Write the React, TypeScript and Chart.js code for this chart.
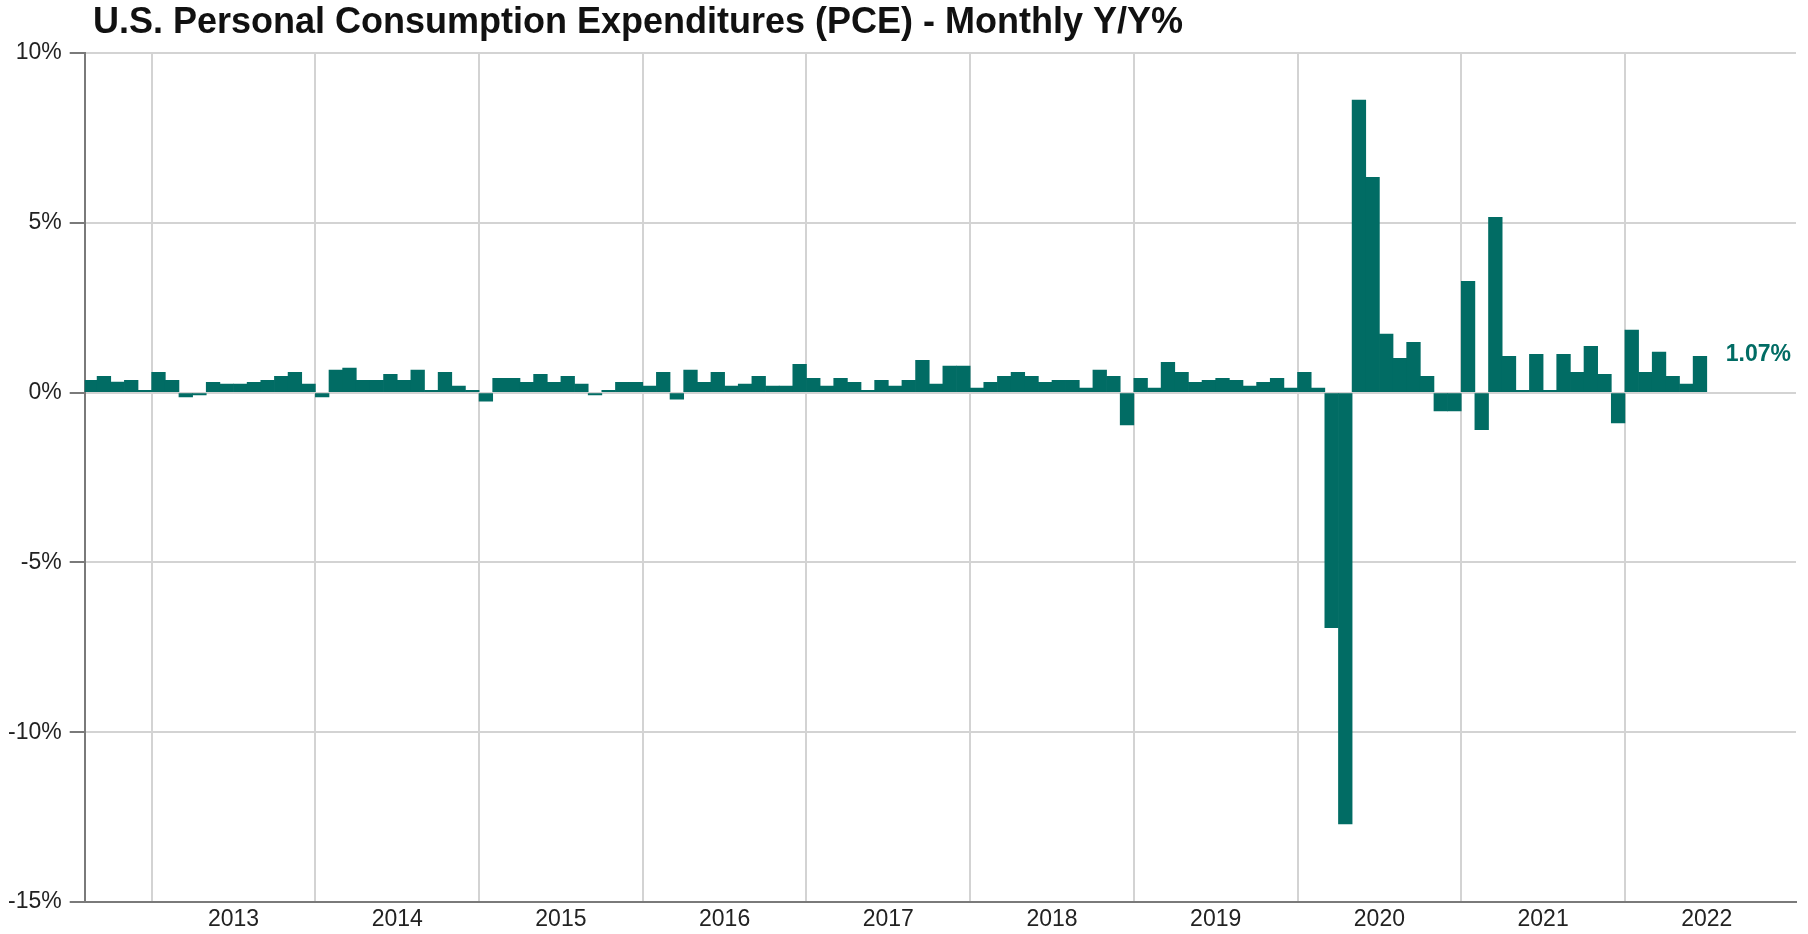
import React, { useEffect, useRef } from 'react';
import { Chart, registerables } from 'chart.js';

Chart.register(...registerables);

const TITLE = 'U.S. Personal Consumption Expenditures (PCE) - Monthly Y/Y%';
const FIRST_YEAR = 2012;
const FIRST_MONTH = 8; // August 2012

// Monthly values (%), one array per calendar year
const pce2012 = [0.36, 0.48, 0.31, 0.36, 0.07];
const pce2013 = [0.6, 0.36, -0.13, -0.07, 0.3, 0.25, 0.25, 0.3, 0.36, 0.48, 0.6, 0.25];
const pce2014 = [-0.13, 0.66, 0.72, 0.36, 0.36, 0.54, 0.36, 0.66, 0.07, 0.6, 0.19, 0.07];
const pce2015 = [-0.25, 0.42, 0.42, 0.3, 0.54, 0.3, 0.48, 0.25, -0.07, 0.07, 0.3, 0.3];
const pce2016 = [0.19, 0.6, -0.19, 0.66, 0.3, 0.6, 0.19, 0.25, 0.48, 0.19, 0.19, 0.83];
const pce2017 = [0.42, 0.19, 0.42, 0.3, 0.07, 0.36, 0.19, 0.36, 0.95, 0.25, 0.78, 0.78];
const pce2018 = [0.13, 0.3, 0.48, 0.6, 0.48, 0.3, 0.36, 0.36, 0.13, 0.66, 0.48, -0.95];
const pce2019 = [0.42, 0.13, 0.89, 0.6, 0.3, 0.36, 0.42, 0.36, 0.19, 0.3, 0.42, 0.13];
const pce2020 = [0.6, 0.13, -6.92, -12.7, 8.61, 6.34, 1.72, 1.01, 1.48, 0.48, -0.54, -0.54];
const pce2021 = [3.28, -1.09, 5.16, 1.07, 0.07, 1.13, 0.07, 1.13, 0.6, 1.36, 0.54, -0.89];
const pce2022 = [1.84, 0.6, 1.19, 0.48, 0.25, 1.07];

const pceSeries = [
  pce2012, pce2013, pce2014, pce2015, pce2016, pce2017,
  pce2018, pce2019, pce2020, pce2021, pce2022,
];

const yearLabels = ['2013', '2014', '2015', '2016', '2017', '2018', '2019', '2020', '2021', '2022'];
const LAST_LABEL = '1.07%';

const BAR_COLOR = '#016c64';
const FONT = '"Liberation Sans", Arial, Helvetica, sans-serif';

// month index counted from January of FIRST_YEAR
const points: { x: number; y: number }[] = [];
{
  let m = FIRST_MONTH - 1;
  pceSeries.forEach((arr) => {
    arr.forEach((v) => {
      points.push({ x: m + 0.5, y: v });
      m += 1;
    });
  });
}

const titlePlugin = {
  id: 'customTitle',
  afterDraw(chart: any) {
    const ctx = chart.ctx;
    ctx.save();
    ctx.font = `bold 36px ${FONT}`;
    ctx.fillStyle = '#111';
    ctx.textBaseline = 'alphabetic';
    ctx.textAlign = 'left';
    ctx.fillText(TITLE, 93, 33);
    ctx.restore();
  },
};

const lastLabelPlugin = {
  id: 'lastLabel',
  afterDatasetsDraw(chart: any) {
    const meta = chart.getDatasetMeta(0);
    const el = meta.data[meta.data.length - 1];
    if (!el) return;
    const ctx = chart.ctx;
    ctx.save();
    ctx.font = `bold 23px ${FONT}`;
    ctx.fillStyle = BAR_COLOR;
    ctx.textBaseline = 'middle';
    ctx.textAlign = 'left';
    ctx.fillText(LAST_LABEL, el.x + el.width / 2 + 19, el.y - 2);
    ctx.restore();
  },
};

export default function App() {
  const canvasRef = useRef<HTMLCanvasElement | null>(null);

  useEffect(() => {
    if (!canvasRef.current) return;
    const chart = new Chart(canvasRef.current, {
      type: 'bar',
      data: {
        datasets: [
          {
            data: points as any,
            backgroundColor: BAR_COLOR,
            borderWidth: 0,
            barPercentage: 1,
            categoryPercentage: 1,
          },
        ],
      },
      options: {
        animation: false,
        responsive: false,
        maintainAspectRatio: false,
        layout: { padding: { top: 53, left: 0, right: 12, bottom: -3 } },
        plugins: {
          legend: { display: false },
          title: { display: false },
          tooltip: { enabled: false },
        },
        scales: {
          x: {
            type: 'linear',
            offset: false,
            min: 7.09,
            max: 132.54,
            afterBuildTicks: (scale: any) => {
              const t: { value: number }[] = [];
              yearLabels.forEach((yl) => {
                const start = (Number(yl) - FIRST_YEAR) * 12;
                t.push({ value: start });
                t.push({ value: start + 6 });
              });
              scale.ticks = t;
            },
            grid: {
              offset: false,
              color: (c: any) =>
                c.tick && c.tick.value % 12 === 0 ? '#d3d3d3' : 'rgba(0,0,0,0)',
              lineWidth: 2,
              drawTicks: false,
            },
            border: { color: '#7a7a7a', width: 2 },
            ticks: {
              autoSkip: false,
              maxRotation: 0,
              padding: 6,
              color: '#222',
              font: { family: FONT, size: 23, lineHeight: 1 },
              callback: (v: any) =>
                Number(v) % 12 === 6 ? String(FIRST_YEAR + (Number(v) - 6) / 12) : '',
            },
          },
          y: {
            type: 'linear',
            min: -15,
            max: 10,
            grid: {
              color: '#d3d3d3',
              lineWidth: 2,
              tickColor: '#7a7a7a',
              tickLength: 15,
              tickWidth: 2,
            },
            border: { color: '#7a7a7a', width: 2 },
            ticks: {
              stepSize: 5,
              padding: 8,
              color: '#222',
              font: { family: FONT, size: 23, lineHeight: 1.2 },
              callback: (v: any) => `${v}%`,
            },
          },
        },
      },
      plugins: [titlePlugin, lastLabelPlugin],
    } as any);
    return () => chart.destroy();
  }, []);

  return (
    <div style={{ position: 'fixed', left: 0, top: 0, width: 1808, height: 934, background: '#fff' }}>
      <canvas ref={canvasRef} width={1808} height={934} style={{ display: 'block' }} />
    </div>
  );
}
